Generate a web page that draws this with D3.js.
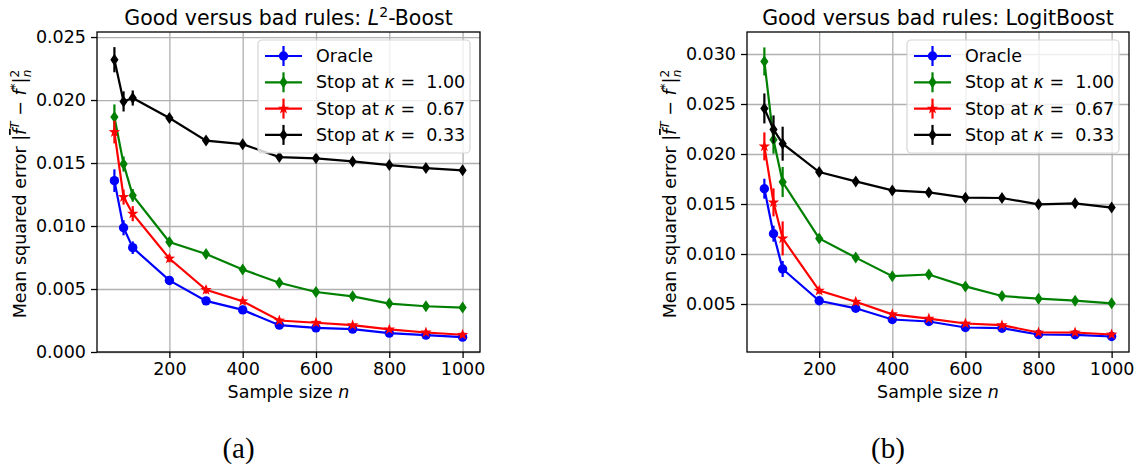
<!DOCTYPE html>
<html>
<head>
<meta charset="utf-8">
<script src="https://cdn.jsdelivr.net/npm/d3@7"></script>
<style>
  body { margin: 0; background: #fff; }
  svg text { font-family: "DejaVu Sans", sans-serif; fill: #000; }
  .axis path, .axis line { stroke: #000; }
  .grid line { stroke: #b0b0b0; stroke-width: 1.3; }
  .grid path { display: none; }
</style>
</head>
<body>
<div id="chart"></div>
<script>
// sample sizes shared by both panels
const sampleSizes = [50, 75, 100, 200, 300, 400, 500, 600, 700, 800, 900, 1000];

// panel (a): L2-Boost
const oracleL2 = [0.0136, 0.00986, 0.00828, 0.00568, 0.00406, 0.00334, 0.00213, 0.00192, 0.00182, 0.0015, 0.00134, 0.00118];
const oracleL2Err = [0.0009, 0.0006, 0.0005, 0.0002, 0.0002, 0.0002, 0.0001, 0.0001, 0.0001, 0.0001, 0.0001, 0.0001];
const kappa100L2 = [0.01865, 0.01492, 0.01243, 0.00873, 0.00778, 0.00655, 0.0055, 0.00476, 0.00442, 0.00384, 0.00363, 0.00353];
const kappa100L2Err = [0.001, 0.0006, 0.0005, 0.0003, 0.0003, 0.0003, 0.0002, 0.0002, 0.0002, 0.0002, 0.0002, 0.0002];
const kappa067L2 = [0.01746, 0.0123, 0.01098, 0.00742, 0.00493, 0.00403, 0.0025, 0.00232, 0.00213, 0.00179, 0.00155, 0.00137];
const kappa067L2Err = [0.0009, 0.0006, 0.0006, 0.0003, 0.0003, 0.0002, 0.0001, 0.0001, 0.0001, 0.0001, 0.0001, 0.0001];
const kappa033L2 = [0.0232, 0.01989, 0.02016, 0.01857, 0.01678, 0.0165, 0.01547, 0.01537, 0.01513, 0.01484, 0.0146, 0.01442];
const kappa033L2Err = [0.001, 0.0008, 0.0006, 0.0003, 0.0003, 0.0003, 0.0002, 0.0002, 0.0002, 0.0002, 0.0002, 0.0002];

// panel (b): LogitBoost
const oracleLB = [0.01653, 0.01203, 0.0085, 0.00532, 0.00457, 0.00345, 0.00325, 0.00265, 0.00258, 0.00195, 0.00192, 0.00175];
const oracleLBErr = [0.001, 0.0008, 0.0008, 0.0003, 0.0003, 0.0002, 0.0002, 0.0002, 0.0002, 0.0001, 0.0001, 0.0001];
const kappa100LB = [0.02926, 0.02143, 0.0172, 0.01156, 0.00964, 0.00778, 0.00795, 0.00676, 0.0058, 0.00553, 0.00533, 0.00507];
const kappa100LBErr = [0.0014, 0.0014, 0.0015, 0.0004, 0.0003, 0.0003, 0.0003, 0.0003, 0.0003, 0.0002, 0.0002, 0.0002];
const kappa067LB = [0.02076, 0.01516, 0.01156, 0.00634, 0.00522, 0.00397, 0.00354, 0.00305, 0.00288, 0.00215, 0.00215, 0.00195];
const kappa067LBErr = [0.0014, 0.0014, 0.0017, 0.0003, 0.0003, 0.0002, 0.0002, 0.0002, 0.0002, 0.0001, 0.0001, 0.0001];
const kappa033LB = [0.02456, 0.02246, 0.02103, 0.0182, 0.01726, 0.01636, 0.01616, 0.01563, 0.0156, 0.01497, 0.01507, 0.01464];
const kappa033LBErr = [0.0015, 0.0014, 0.0017, 0.0003, 0.0003, 0.0003, 0.0003, 0.0003, 0.0003, 0.0003, 0.0003, 0.0003];

const seriesNames = ["Oracle", "1.00", "0.67", "0.33"];
const seriesColors = ["#0000ff", "#008000", "#ff0000", "#000000"];
const seriesMarkers = ["circle", "diamond", "star", "diamond"];

const xTicks = [200, 400, 600, 800, 1000];
const yTicksL2 = [0, 0.005, 0.01, 0.015, 0.02, 0.025];
const yTicksLB = [0.005, 0.01, 0.015, 0.02, 0.025, 0.03];

const W = 1136, H = 470;
const svg = d3.select("#chart").append("svg").attr("width", W).attr("height", H);

function markerPath(type) {
    if (type == "circle") {
        return d3.symbol().type(d3.symbolCircle).size(Math.PI * 4.7 * 4.7)();
    }
    if (type == "diamond") {
        return "M0,-6L4.1,0L0,6L-4.1,0Z";
    }
    // five pointed star
    let p = [];
    for (let i = 0; i < 10; i++) {
        let r = i % 2 == 0 ? 6 : 2.4;
        let a = -Math.PI / 2 + i * Math.PI / 5;
        p.push([r * Math.cos(a), r * Math.sin(a)]);
    }
    return "M" + p.map(d => d[0].toFixed(2) + "," + d[1].toFixed(2)).join("L") + "Z";
}

function drawPanel(opts) {
    let g = svg.append("g");
    let x = d3.scaleLinear().domain([2.5, 1047.5]).range([opts.left, opts.right]);
    let y = d3.scaleLinear().domain(opts.yDomain).range([opts.bottom, opts.top]);

    // grid
    g.append("g").attr("class", "grid")
        .attr("transform", "translate(0," + opts.bottom + ")")
        .call(d3.axisBottom(x).tickValues(xTicks).tickSize(-(opts.bottom - opts.top)).tickFormat(""));
    g.append("g").attr("class", "grid")
        .attr("transform", "translate(" + opts.left + ",0)")
        .call(d3.axisLeft(y).tickValues(opts.yTicks).tickSize(-(opts.right - opts.left)).tickFormat(""));

    // axes
    let xa = g.append("g").attr("class", "axis")
        .attr("transform", "translate(0," + opts.bottom + ")")
        .call(d3.axisBottom(x).tickValues(xTicks).tickFormat(d3.format("d")).tickSize(6).tickPadding(5).tickSizeOuter(0));
    let ya = g.append("g").attr("class", "axis")
        .attr("transform", "translate(" + opts.left + ",0)")
        .call(d3.axisLeft(y).tickValues(opts.yTicks).tickFormat(d3.format(".3f")).tickSize(6).tickPadding(5).tickSizeOuter(0));
    [xa, ya].forEach(a => {
        a.select(".domain").remove();
        a.selectAll("line").attr("stroke-width", 1.3);
        a.selectAll("text").attr("font-size", 17.5).style("font-family", "DejaVu Sans");
    });

    // frame
    g.append("rect")
        .attr("x", opts.left).attr("y", opts.top)
        .attr("width", opts.right - opts.left).attr("height", opts.bottom - opts.top)
        .attr("fill", "none").attr("stroke", "#000").attr("stroke-width", 1.3);

    // series
    let line = d3.line().x(d => x(d[0])).y(d => y(d[1]));
    opts.series.forEach((s, k) => {
        let pts = sampleSizes.map((n, i) => [n, s.values[i], s.errors[i]]);
        let sg = g.append("g");
        sg.append("path").datum(pts).attr("d", line)
            .attr("fill", "none").attr("stroke", seriesColors[k]).attr("stroke-width", 2.2);
        sg.selectAll(".eb").data(pts).enter().append("line")
            .attr("x1", d => x(d[0])).attr("x2", d => x(d[0]))
            .attr("y1", d => y(d[1] - d[2])).attr("y2", d => y(d[1] + d[2]))
            .attr("stroke", seriesColors[k]).attr("stroke-width", 2.2);
        sg.selectAll(".mk").data(pts).enter().append("path")
            .attr("d", markerPath(seriesMarkers[k]))
            .attr("transform", d => "translate(" + x(d[0]) + "," + y(d[1]) + ")")
            .attr("fill", seriesColors[k]);
    });

    // title
    let t = g.append("text")
        .attr("x", (opts.left + opts.right) / 2).attr("y", 25)
        .attr("text-anchor", "middle").attr("font-size", 20.5);
    opts.title(t);

    // x label
    let xl = g.append("text")
        .attr("x", (opts.left + opts.right) / 2).attr("y", 398)
        .attr("text-anchor", "middle").attr("font-size", 17.5);
    xl.append("tspan").text("Sample size ");
    xl.append("tspan").attr("font-style", "italic").text("n");

    // y label
    let yl = g.append("text")
        .attr("transform", "translate(" + opts.yLabelX + "," + ((opts.top + opts.bottom) / 2 + 2) + ") rotate(-90)")
        .attr("text-anchor", "middle").attr("font-size", 17.5);
    yl.append("tspan").text("Mean squared error |");
    yl.append("tspan").attr("font-style", "italic").style("text-decoration", "overline").text("f");
    yl.append("tspan").attr("font-style", "italic").attr("font-size", 12).attr("dy", -7).text("T");
    yl.append("tspan").attr("dy", 7).text(" \u2212 ");
    yl.append("tspan").attr("font-style", "italic").text("f");
    yl.append("tspan").attr("font-size", 12).attr("dy", -7).text("*");
    yl.append("tspan").attr("dy", 7).text("|");
    yl.append("tspan").attr("font-size", 12).attr("dy", -7).text("2");
    yl.append("tspan").attr("font-size", 12).attr("font-style", "italic").attr("dx", -7.5).attr("dy", 12).text("n");

    // legend
    let lw = 212, lh = 113;
    let lx = opts.right - 10 - lw, ly = opts.top + 8;
    let lg = g.append("g").attr("transform", "translate(" + lx + "," + ly + ")");
    lg.append("rect").attr("width", lw).attr("height", lh).attr("rx", 4)
        .attr("fill", "#fff").attr("fill-opacity", 0.8)
        .attr("stroke", "#d6d6d6").attr("stroke-width", 1.2);
    seriesNames.forEach((name, k) => {
        let cy = 16 + k * 26.3;
        let row = lg.append("g").attr("transform", "translate(0," + cy + ")");
        row.append("line").attr("x1", 7).attr("x2", 44)
            .attr("stroke", seriesColors[k]).attr("stroke-width", 2.2);
        row.append("line").attr("x1", 25.5).attr("x2", 25.5).attr("y1", -10).attr("y2", 10)
            .attr("stroke", seriesColors[k]).attr("stroke-width", 2.2);
        row.append("path").attr("d", markerPath(seriesMarkers[k]))
            .attr("transform", "translate(25.5,0)").attr("fill", seriesColors[k]);
        let tx = row.append("text").attr("x", 58).attr("y", 6).attr("font-size", 17.5)
            .style("white-space", "pre");
        if (k == 0) {
            tx.text(name);
        } else {
            tx.append("tspan").text("Stop at ");
            tx.append("tspan").attr("font-style", "italic").text("\u03ba");
            tx.append("tspan").text(" =  " + name);
        }
    });

    // panel tag
    svg.append("text")
        .attr("x", (opts.left + opts.right) / 2 - 50).attr("y", 458)
        .attr("text-anchor", "middle").attr("font-size", 29)
        .style("font-family", "'Liberation Serif', 'DejaVu Serif', serif")
        .text(opts.tag);
}

drawPanel({
    left: 97, right: 480, top: 32, bottom: 352,
    yDomain: [0, 0.0254], yTicks: yTicksL2, yLabelX: 26,
    series: [
        {values: oracleL2, errors: oracleL2Err},
        {values: kappa100L2, errors: kappa100L2Err},
        {values: kappa067L2, errors: kappa067L2Err},
        {values: kappa033L2, errors: kappa033L2Err}
    ],
    title: t => {
        t.append("tspan").text("Good versus bad rules: ");
        t.append("tspan").attr("font-style", "italic").text("L");
        t.append("tspan").attr("font-size", 14).attr("dy", -8).text("2");
        t.append("tspan").attr("dy", 8).text("-Boost");
    },
    tag: "(a)"
});

drawPanel({
    left: 747, right: 1129, top: 32, bottom: 352,
    yDomain: [0.0002, 0.0322], yTicks: yTicksLB, yLabelX: 676,
    series: [
        {values: oracleLB, errors: oracleLBErr},
        {values: kappa100LB, errors: kappa100LBErr},
        {values: kappa067LB, errors: kappa067LBErr},
        {values: kappa033LB, errors: kappa033LBErr}
    ],
    title: t => {
        t.text("Good versus bad rules: LogitBoost");
    },
    tag: "(b)"
});
</script>
</body>
</html>
